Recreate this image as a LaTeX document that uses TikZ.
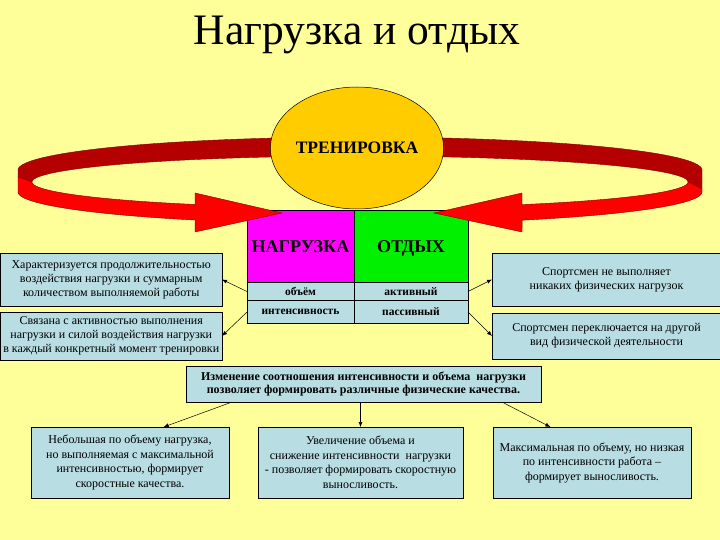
\documentclass[tikz,border=0pt]{standalone}
\usepackage{fontspec}
\setmainfont{Liberation Serif}
\usetikzlibrary{shapes.geometric,arrows.meta,calc}
\definecolor{bg}{HTML}{FFFF99}
\definecolor{boxblue}{HTML}{B8DDE2}
\definecolor{bandback}{HTML}{B40000}
\definecolor{bandfront}{HTML}{FF0000}
\definecolor{circ}{HTML}{FFCC00}
\definecolor{mag}{HTML}{FF00FF}
\definecolor{grn}{HTML}{00F000}
\tikzset{
  infobox/.style={draw=black, fill=boxblue, line width=0.6pt, align=center, inner sep=0pt, outer sep=0pt, font=\fontsize{12}{14}\selectfont},
  cell/.style={draw=black, line width=0.7pt, inner sep=0pt, outer sep=0pt, align=center},
  smallcell/.style={cell, fill=boxblue, font=\fontsize{11.5}{12}\selectfont\bfseries},
  headcell/.style={cell, minimum height=72pt, font=\fontsize{18}{20}\selectfont\bfseries, text height=12.5pt, text depth=0pt},
  arr/.style={draw=black, line width=0.5pt, -{Latex[length=5pt,width=4pt]}},
  bandline/.style={draw=black!50!red, line width=0.4pt}
}
\begin{document}
\begin{tikzpicture}[x=1pt,y=-1pt]
\fill[bg] (0,0) rectangle (720,540);
\useasboundingbox (0,0) rectangle (720,540);

% title
\node[font=\fontsize{43.5}{48}\selectfont] (title) at (357,35) {Нагрузка и отдых};

% back part of the ring
\fill[bandback, bandline] plot[domain=180:0,samples=90] ({360+342*cos(\x)},{170-33*sin(\x)})
  -- (702,189) -- (688,182)
  -- plot[domain=0:180,samples=90] ({360+328*cos(\x)},{182-26*sin(\x)})
  -- (18,177) -- cycle;

% circle
\node[ellipse, draw=black, line width=0.5pt, fill=circ, minimum width=150pt, minimum height=122pt, inner sep=0pt,
      font=\fontsize{17.5}{20}\selectfont\bfseries] (trn) at (357,148) {ТРЕНИРОВКА};

% table
\node[headcell, fill=mag, minimum width=107pt] (hL) at (300.5,246) {НАГРУЗКА};
\node[headcell, fill=grn, minimum width=114pt] (hR) at (411,246) {ОТДЫХ};
\node[smallcell, minimum width=107pt, minimum height=19pt] (r1l) at (300.5,291.5) {объём};
\node[smallcell, minimum width=114pt, minimum height=19pt] (r1r) at (411,291.5) {активный};
\node[smallcell, minimum width=107pt, minimum height=23pt] (r2l) at (300.5,312) {интенсивность};
\node[smallcell, minimum width=114pt, minimum height=23pt] (r2r) at (411,312) {пассивный};

% front part of the ring with arrowheads
\fill[bandfront, bandline] (18,177) -- (18,192)
  -- plot[domain=180:118.8,samples=50] ({360+342*cos(\x)},{192+32*sin(\x)})
  -- (195,232) -- (282,213) -- (195,193) -- (195,204)
  -- plot[domain=120.2:180,samples=50] ({360+328*cos(\x)},{182+26*sin(\x)})
  -- cycle;
\fill[bandfront, bandline] (702,189) -- (702,192)
  -- plot[domain=0:61.7,samples=50] ({360+342*cos(\x)},{192+32*sin(\x)})
  -- (522,232) -- (434,213) -- (522,193) -- (522,204)
  -- plot[domain=60.4:0,samples=50] ({360+328*cos(\x)},{182+26*sin(\x)})
  -- cycle;

% side boxes
\node[infobox, minimum width=221.5pt, minimum height=53pt] (L1) at (111.25,279.5)
  {Характеризуется продолжительностью\\воздействия нагрузки и суммарным\\количеством выполняемой работы};
\node[infobox, minimum width=221.5pt, minimum height=48pt] (L2) at (111.25,336)
  {Связана с активностью выполнения\\нагрузки и силой воздействия нагрузки\\в каждый конкретный момент тренировки};
\node[infobox, minimum width=229pt, minimum height=53pt] (R1) at (606.5,279.5)
  {Спортсмен не выполняет\\никаких физических нагрузок};
\node[infobox, minimum width=229pt, minimum height=46pt] (R2) at (606.5,336)
  {Спортсмен переключается на другой\\вид физической деятельности};

\draw[arr] (r1l.west) -- (L1.east);
\draw[arr] (r2l.west) -- (L2.east);
\draw[arr] (r1r.east) -- (R1.west);
\draw[arr] (r2r.east) -- (R2.west);

% bottom part
\node[infobox, minimum width=355pt, minimum height=36pt, font=\fontsize{12}{13.5}\selectfont\bfseries] (C) at (363.5,384)
  {Изменение соотношения интенсивности и объема\ \ нагрузки\\позволяет формировать различные физические качества.};
\node[infobox, minimum width=198pt, minimum height=71pt, font=\fontsize{12}{14.8}\selectfont] (B1) at (130,462.5)
  {Небольшая по объему нагрузка,\\но выполняемая с максимальной\\интенсивностью, формирует\\скоростные качества.};
\node[infobox, minimum width=205pt, minimum height=71pt, font=\fontsize{12}{14.5}\selectfont] (B2) at (360.5,462.5)
  {Увеличение объема и\\снижение интенсивности\ \ нагрузки\\- позволяет формировать скоростную\\выносливость.};
\node[infobox, minimum width=198pt, minimum height=71pt, font=\fontsize{12}{14.5}\selectfont] (B3) at (592,462.5)
  {Максимальная по объему, но низкая\\по интенсивности работа –\\формирует выносливость.};

\draw[arr] ($(C.south west)!0.13!(C.south east)$) -- ($(B1.north west)!0.67!(B1.north east)$);
\draw[arr] (B2.north |- C.south) -- (B2.north);
\draw[arr] ($(C.south west)!0.89!(C.south east)$) -- ($(B3.north west)!0.29!(B3.north east)$);
\end{tikzpicture}
\end{document}
